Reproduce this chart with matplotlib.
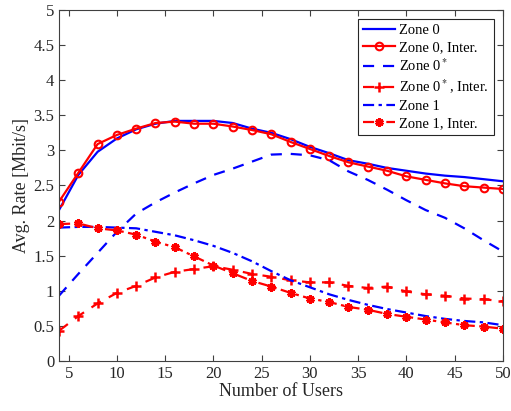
import matplotlib.pyplot as plt
import numpy as np

# ── Data ────────────────────────────────────────────────────
users = np.arange(4, 51, 2)

zone0 = [2.15, 2.65, 2.98, 3.17, 3.30, 3.38, 3.42, 3.42, 3.42, 3.39, 3.31, 3.25,
         3.16, 3.05, 2.96, 2.86, 2.81, 2.75, 2.71, 2.67, 2.64, 2.62, 2.59, 2.56]
zone0_inter = [2.27, 2.68, 3.09, 3.22, 3.31, 3.39, 3.41, 3.38, 3.38, 3.34, 3.29, 3.23,
               3.12, 3.02, 2.92, 2.83, 2.77, 2.71, 2.63, 2.58, 2.53, 2.49, 2.47, 2.45]
zone0s = [0.93, 1.24, 1.54, 1.84, 2.10, 2.26, 2.40, 2.53, 2.65, 2.74, 2.84, 2.94,
          2.95, 2.93, 2.86, 2.70, 2.58, 2.44, 2.29, 2.15, 2.04, 1.89, 1.72, 1.56]
zone0s_inter = [0.43, 0.64, 0.82, 0.97, 1.07, 1.19, 1.27, 1.31, 1.35, 1.30, 1.24, 1.20,
                1.15, 1.12, 1.12, 1.07, 1.04, 1.06, 0.99, 0.95, 0.93, 0.89, 0.88, 0.85]
zone1 = [1.90, 1.91, 1.91, 1.90, 1.89, 1.84, 1.79, 1.72, 1.64, 1.54, 1.42, 1.28,
         1.15, 1.05, 0.95, 0.87, 0.80, 0.74, 0.69, 0.64, 0.60, 0.57, 0.55, 0.51]
zone1_inter = [1.95, 1.96, 1.89, 1.86, 1.80, 1.70, 1.62, 1.49, 1.36, 1.25, 1.14, 1.06,
               0.97, 0.89, 0.84, 0.77, 0.73, 0.67, 0.63, 0.59, 0.55, 0.51, 0.49, 0.46]

xticks = [5, 10, 15, 20, 25, 30, 35, 40, 45, 50]
yticks = [0, 0.5, 1, 1.5, 2, 2.5, 3, 3.5, 4, 4.5, 5]

plt.rcParams['font.family'] = ['Liberation Serif', 'DejaVu Serif']
plt.rcParams['mathtext.fontset'] = 'stix'

fig = plt.figure(figsize=(5.11, 4.11), dpi=100)
ax = fig.add_axes([0.1155, 0.1217, 0.8685, 0.854])

blue = '#0000ff'
red = '#ff0000'
lw = 1.6

ax.plot(users, zone0, color=blue, lw=lw, label='Zone 0')
ax.plot(users, zone0_inter, color=red, lw=lw, marker='o', ms=5.5, mfc='none', mew=1.5,
        label='Zone 0, Inter.')
ax.plot(users, zone0s, color=blue, lw=lw, ls=(0, (5, 4)), label='Zone 0$^*$')
ax.plot(users, zone0s_inter, color=red, lw=lw, ls=(0, (5, 4)), marker='+', ms=7.5, mew=1.8,
        label='Zone 0$^*$, Inter.')
ax.plot(users, zone1, color=blue, lw=lw, ls=(0, (5, 2, 1.5, 2)), label='Zone 1')
ax.plot(users, zone1_inter, color=red, lw=lw, ls=(0, (5, 2, 1.5, 2)), marker=(6, 2, 0),
        ms=6, mew=2.2, label='Zone 1, Inter.')

ax.set_xlim(4, 50)
ax.set_ylim(0, 5)
ax.set_xticks(xticks)
ax.set_yticks(yticks)
ax.set_yticklabels(['0', '0.5', '1', '1.5', '2', '2.5', '3', '3.5', '4', '4.5', '5'])

axis_col = '#262626'
for s in ax.spines.values():
    s.set_color('#404040')
    s.set_linewidth(0.8)
ax.tick_params(direction='in', top=True, right=True, length=4, width=0.8,
               colors='#404040', labelcolor=axis_col, labelsize=12)

ax.set_xlabel('Number of Users', fontsize=13, color=axis_col, labelpad=1)
ax.set_ylabel('Avg. Rate [Mbit/s]', fontsize=13, color=axis_col, labelpad=2)

leg = ax.legend(loc='upper right', fontsize=10.5, handlelength=2.2, handletextpad=0.3,
                labelspacing=0.25, borderpad=0.35, borderaxespad=0.6, fancybox=False,
                framealpha=1)
leg.get_frame().set_edgecolor('#262626')
leg.get_frame().set_linewidth(0.8)

plt.savefig('out.png', dpi=100)
